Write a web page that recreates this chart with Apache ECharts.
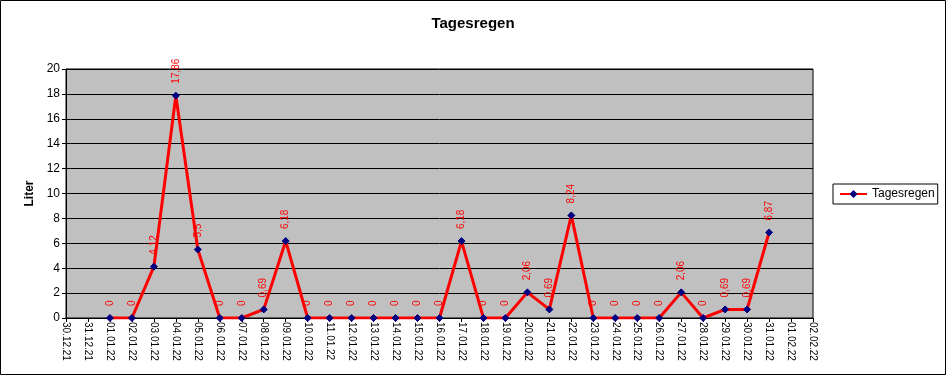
<!DOCTYPE html>
<html>
<head>
<meta charset="utf-8">
<script src="https://cdn.jsdelivr.net/npm/echarts@6/dist/echarts.min.js"></script>
<style>
html,body{margin:0;padding:0;background:#fff;}
#c{width:946px;height:375px;}
</style>
</head>
<body>
<div id="c"></div>
<script>
const categories = ["30.12.21","31.12.21","01.01.22","02.01.22","03.01.22","04.01.22","05.01.22","06.01.22","07.01.22","08.01.22","09.01.22","10.01.22","11.01.22","12.01.22","13.01.22","14.01.22","15.01.22","16.01.22","17.01.22","18.01.22","19.01.22","20.01.22","21.01.22","22.01.22","23.01.22","24.01.22","25.01.22","26.01.22","27.01.22","28.01.22","29.01.22","30.01.22","31.01.22","01.02.22","02.02.22"];
const tagesregen = [null,null,0,0,4.12,17.86,5.5,0,0,0.69,6.18,0,0,0,0,0,0,0,6.18,0,0,2.06,0.69,8.24,0,0,0,0,2.06,0,0.69,0.69,6.87,null,null];
const yTicks = {min:0, max:20, interval:2};

const chart = echarts.init(document.getElementById('c'), null, {renderer:'canvas'});
const font = 'Arial, "Liberation Sans", sans-serif';
chart.setOption({
  animation:false,
  backgroundColor:'#fff',
  title:{text:'Tagesregen', left:'center', top:11, textStyle:{fontFamily:font, fontSize:15, fontWeight:'bold', color:'#000'}},
  legend:{
    data:['Tagesregen'], left:833, top:184, orient:'vertical',
    borderColor:'#000', borderWidth:1, borderRadius:0, padding:[4,3,4,6],
    itemWidth:27, itemHeight:10, itemGap:0,
    textStyle:{fontFamily:font, fontSize:12, color:'#000'}
  },
  grid:{left:66, right:133, top:69, bottom:57, show:true, backgroundColor:'#C0C0C0', borderColor:'#000', borderWidth:1},
  xAxis:{
    type:'category', data:categories, boundaryGap:false,
    axisLine:{lineStyle:{color:'#000', width:1}},
    axisTick:{show:true, alignWithLabel:true, length:4, lineStyle:{color:'#000'}},
    axisLabel:{rotate:-90, interval:0, fontFamily:font, fontSize:10, color:'#000', margin:4},
    splitLine:{show:false}
  },
  yAxis:{
    type:'value', min:yTicks.min, max:yTicks.max, interval:yTicks.interval,
    name:'Liter', nameLocation:'middle', nameGap:30, nameRotate:90,
    nameTextStyle:{fontFamily:font, fontSize:12, fontWeight:'bold', color:'#000'},
    axisLine:{show:true, lineStyle:{color:'#000'}},
    axisTick:{show:true, length:4, lineStyle:{color:'#000'}},
    axisLabel:{fontFamily:font, fontSize:12, color:'#000', margin:6},
    splitLine:{show:true, lineStyle:{color:'#000', width:1}}
  },
  series:[{
    name:'Tagesregen', type:'line', data:tagesregen, connectNulls:false,
    lineStyle:{color:'#FF0000', width:3},
    itemStyle:{color:'#000080', borderColor:'#000080'},
    symbol:'diamond', symbolSize:7, showAllSymbol:true,
    label:{
      show:true, position:'top', distance:8, rotate:90, align:'left', verticalAlign:'middle',
      fontFamily:font, fontSize:10, color:'#FF0000',
      formatter:p => p.value == null ? '' : String(p.value).replace('.', ',')
    },
    emphasis:{disabled:true}
  }],
  graphic:[{type:'rect', shape:{x:0.5, y:0.5, width:945, height:374}, style:{fill:null, stroke:'#000', lineWidth:1}, silent:true}]
});
</script>
</body>
</html>
